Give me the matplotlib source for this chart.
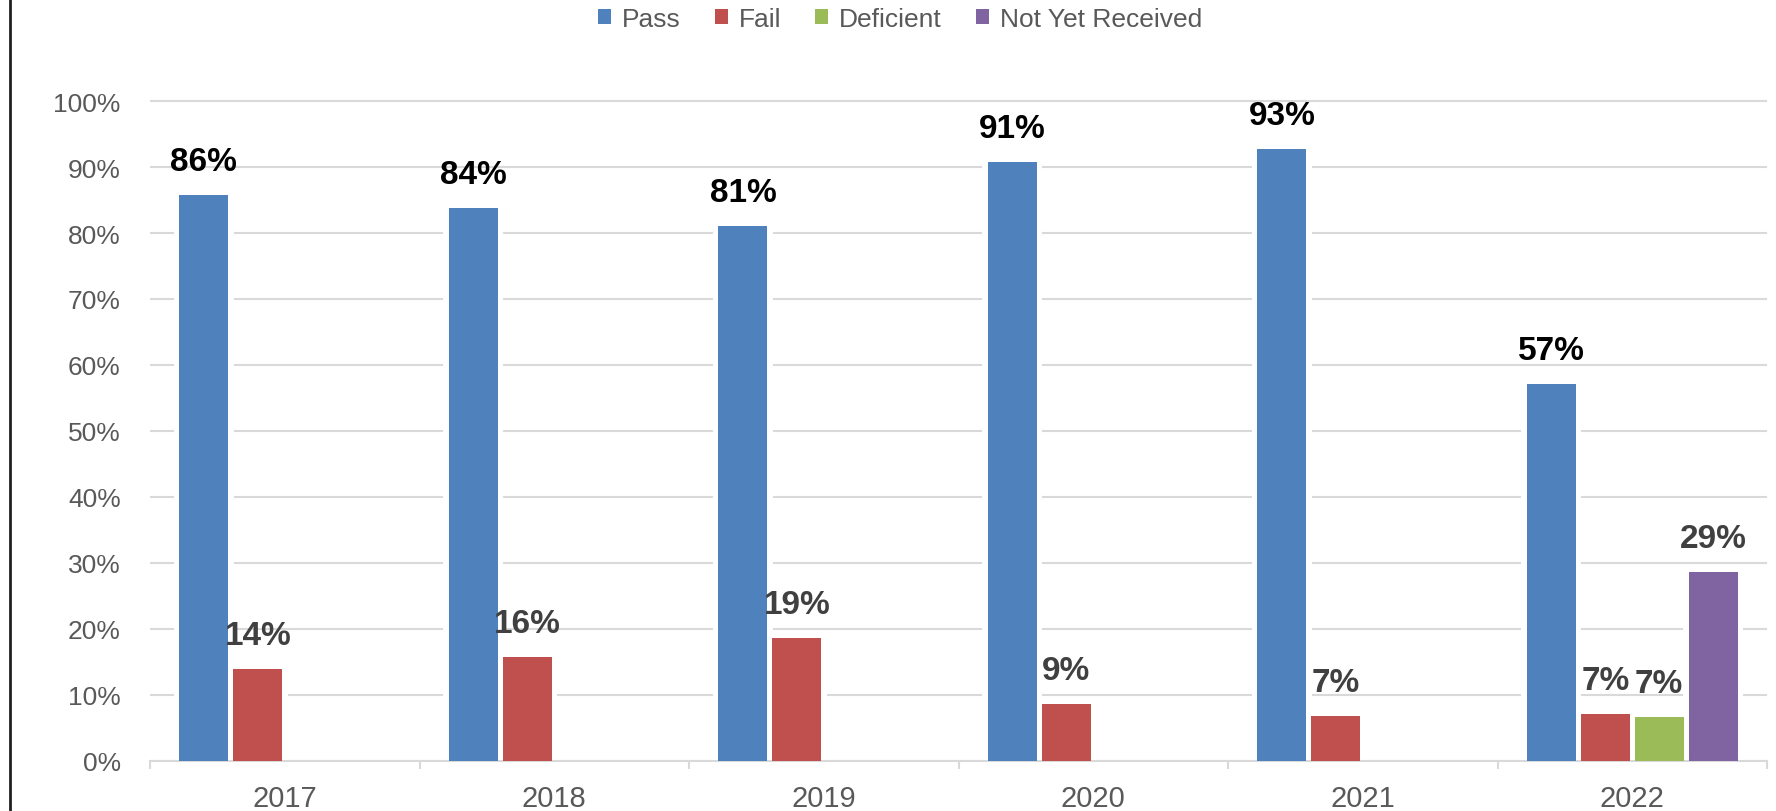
import matplotlib
matplotlib.use("Agg")
import matplotlib.pyplot as plt
from matplotlib.lines import Line2D
from matplotlib.patches import Patch
from matplotlib.ticker import PercentFormatter, FixedLocator
import numpy as np

plt.rcParams['font.family'] = ['Liberation Sans', 'DejaVu Sans']

years = ["2017", "2018", "2019", "2020", "2021", "2022"]
series_names = ["Pass", "Fail", "Deficient", "Not Yet Received"]
pass_vals = [0.857, 0.838, 0.810, 0.907, 0.928, 0.571]
fail_vals = [0.139, 0.158, 0.186, 0.087, 0.068, 0.071]
deficient_vals = [0.0, 0.0, 0.0, 0.0, 0.0, 0.066]
not_received_vals = [0.0, 0.0, 0.0, 0.0, 0.0, 0.286]
colors = ["#4F81BD", "#C0504D", "#9BBB59", "#8064A2"]
label_colors = ["#000000", "#404040", "#404040", "#404040"]

all_series = [pass_vals, fail_vals, deficient_vals, not_received_vals]

fig = plt.figure(figsize=(17.76, 8.12), dpi=100)
ax = fig.add_axes([150 / 1776, 50 / 812, 1617 / 1776, 726 / 812])

x = np.arange(len(years))
slot = 0.8 / len(series_names)
bar_w = 0.182
halo_w = 0.223

for i, (vals, col, lcol) in enumerate(zip(all_series, colors, label_colors)):
    pos = x + (i - 1.5) * slot
    ax.bar(pos, vals, width=halo_w, color="white", zorder=2, linewidth=0)
    ax.bar(pos, vals, width=bar_w, color=col, zorder=3, linewidth=0)
    for px, v in zip(pos, vals):
        if v > 0:
            ax.annotate(f"{v * 100:.0f}%", (px, v), xytext=(0, 18),
                        textcoords="offset points", ha="center", va="baseline",
                        fontsize=24, fontweight="bold", color=lcol,
                        zorder=5, annotation_clip=False)

ax.set_xlim(-0.5, len(years) - 0.5)
ax.set_ylim(0, 1.1)
ax.yaxis.set_major_locator(FixedLocator(np.arange(0, 1.01, 0.1)))
ax.yaxis.set_major_formatter(PercentFormatter(1.0, decimals=0))
ax.grid(axis="y", color="#D9D9D9", linewidth=1.5, zorder=1)
ax.set_axisbelow(True)

ax.set_xticks(x)
ax.set_xticklabels(years)
ax.set_xticks(np.arange(-0.5, len(years), 1.0), minor=True)
ax.tick_params(axis="x", which="major", length=0, pad=16.5, labelsize=21,
               labelcolor="#595959")
ax.tick_params(axis="x", which="minor", length=6, width=1.5, color="#D9D9D9",
               direction="out")
ax.tick_params(axis="y", length=0, pad=21, labelsize=19, labelcolor="#595959")

for side in ("top", "right", "left"):
    ax.spines[side].set_visible(False)
ax.spines["bottom"].set_color("#D9D9D9")
ax.spines["bottom"].set_linewidth(1.5)

handles = [Patch(facecolor=c, edgecolor="none") for c in colors]
fig.legend(handles, series_names, loc="center", bbox_to_anchor=(900 / 1776, 1 - 20 / 812),
           ncol=4, frameon=False, fontsize=19, labelcolor="#595959",
           handlelength=0.5, handleheight=0.5, handletextpad=0.4,
           columnspacing=1.3)

fig.add_artist(Line2D([9.5 / 1776, 9.5 / 1776], [0, 1], color="#202020",
                      linewidth=2, transform=fig.transFigure))

fig.savefig("out.png", dpi=100)
